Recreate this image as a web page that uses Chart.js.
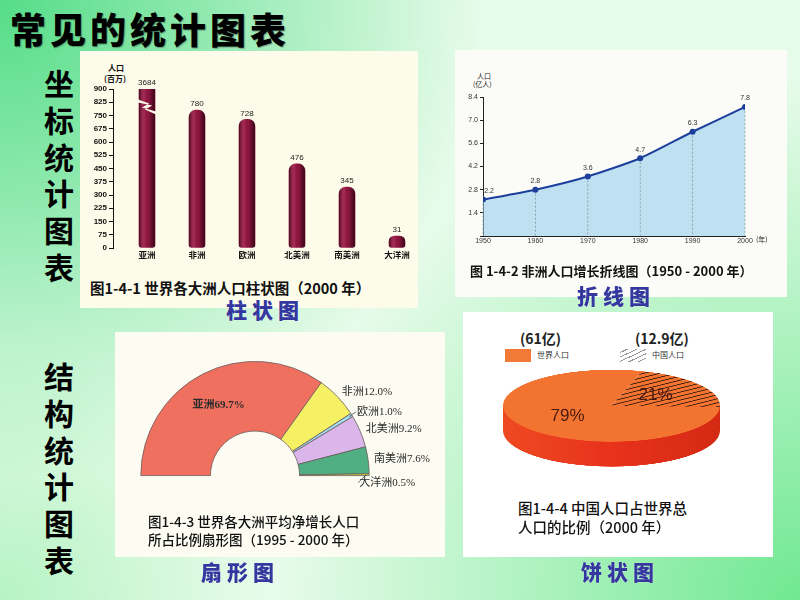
<!DOCTYPE html>
<html>
<head>
<meta charset="utf-8">
<script src="https://cdn.jsdelivr.net/npm/chart.js@4.4.1/dist/chart.umd.min.js"></script>
<style>
html, body { margin: 0; padding: 0; }
body {
  width: 800px; height: 600px; position: relative; overflow: hidden;
  font-family: "Noto Sans CJK SC", "Liberation Sans", sans-serif;
  background:
    radial-gradient(circle at 0 0, #55dd88 0, rgba(85,221,136,0.6) 200px, rgba(85,221,136,0) 480px),
    radial-gradient(circle at 800px 600px, #70e892 0, rgba(112,232,146,0.5) 250px, rgba(112,232,146,0) 520px),
    radial-gradient(circle at 0 600px, rgba(150,238,170,0.6) 0, rgba(150,238,170,0) 260px),
    #e6fbe9;
}
.abs { position: absolute; white-space: nowrap; line-height: 1; }
.panel { position: absolute; }
.title { left: 10px; top: 10px; font-size: 36px; font-weight: 900; letter-spacing: 4px; color: #000;
  text-shadow: 1px 1px 1px rgba(0,0,0,0.3); }
.side { position: absolute; left: 42px; width: 34px; text-align: center; font-size: 30px; font-weight: 700;
  line-height: 36.8px; color: #000; }
.kind { font-size: 21px; font-weight: 900; letter-spacing: 5px; color: #34389e; text-shadow: 0 0 1px #fff; }
.cap { color: #111; }
.small { font-size: 8px; font-weight: 700; color: #111; }
</style>
</head>
<body>
<div class="abs title">常见的统计图表</div>
<div class="side" style="top:64px">坐<br>标<br>统<br>计<br>图<br>表</div>
<div class="side" style="top:357px">结<br>构<br>统<br>计<br>图<br>表</div>

<!-- panels -->
<div class="panel" style="left:80px;top:51px;width:338px;height:257px;background:#fdfbe9"></div>
<div class="panel" style="left:455px;top:50px;width:332px;height:247px;background:#fbfcf7"></div>
<div class="panel" style="left:115px;top:332px;width:330px;height:225px;background:#fdfcf3"></div>
<div class="panel" style="left:463px;top:312px;width:310px;height:245px;background:#ffffff"></div>

<!-- bar chart -->
<div class="abs small" style="left:108px;top:64px">人口</div>
<div class="abs small" style="left:104px;top:75px">(百万)</div>
<div style="position:absolute;left:82px;top:60px;width:340px;height:200px"><canvas id="barChart"></canvas></div>
<div class="abs cap" style="left:90px;top:281px;font-size:14.5px;font-weight:700">图1-4-1 世界各大洲人口柱状图（2000 年）</div>

<!-- line chart -->
<div class="abs" style="left:477px;top:73px;font-size:7px;color:#222">人口</div>
<div class="abs" style="left:473px;top:81px;font-size:7px;color:#222">(亿人)</div>
<div style="position:absolute;left:450px;top:70px;width:320px;height:180px"><canvas id="lineChart"></canvas></div>
<div class="abs" style="left:756px;top:236px;font-size:7px;color:#222">(年)</div>
<div class="abs cap" style="left:470px;top:264px;font-size:13px;font-weight:700">图 1-4-2 非洲人口增长折线图（1950 - 2000 年）</div>

<!-- fan chart -->
<div style="position:absolute;left:115px;top:332px;width:330px;height:225px"><canvas id="fanChart"></canvas></div>
<div class="abs cap" style="left:148px;top:515px;font-size:13.5px;font-weight:500">图1-4-3 世界各大洲平均净增长人口</div>
<div class="abs cap" style="left:148px;top:533px;font-size:13.5px;font-weight:500">所占比例扇形图（1995 - 2000 年）</div>

<!-- pie chart -->
<div id="pieLegend"></div>
<div style="position:absolute;left:501px;top:369px;width:221px;height:296px;transform:scaleY(0.332);transform-origin:0 0"><canvas id="pieChart"></canvas></div>
<div class="abs cap" style="left:518px;top:501px;font-size:14.5px;font-weight:500">图1-4-4 中国人口占世界总</div>
<div class="abs cap" style="left:518px;top:520px;font-size:14.5px;font-weight:500">人口的比例（2000 年）</div>

<div class="abs kind" style="left:226px;top:299px">柱状图</div>
<div class="abs kind" style="left:577px;top:285px">折线图</div>
<div class="abs kind" style="left:201px;top:561px">扇形图</div>
<div class="abs kind" style="left:581px;top:561px">饼状图</div>

<script>
// DATA
// bar: world population by continent, 2000 (millions)
const barLabels = ['亚洲', '非洲', '欧洲', '北美洲', '南美洲', '大洋洲'];
const barValues = [3684, 780, 728, 476, 345, 31];
// line: population of Africa (100 million)
const lineYears = [1950, 1960, 1970, 1980, 1990, 2000];
const lineValues = [2.2, 2.8, 3.6, 4.7, 6.3, 7.8];
// fan: share of net population growth 1995-2000 (%)
const fanLabels = ['亚洲', '非洲', '欧洲', '北美洲', '南美洲', '大洋洲'];
const fanValues = [69.7, 12.0, 1.0, 9.2, 7.6, 0.5];
// pie: China vs the rest of the world, 2000
const pieLabels = ['世界人口', '中国人口'];
const pieValues = [79, 21];
const piePeople = ['61亿', '12.9亿'];

Chart.defaults.font.family = '"Liberation Sans", "Noto Sans CJK SC", sans-serif';
Chart.defaults.animation = false;
Chart.defaults.plugins.legend.display = false;
Chart.defaults.plugins.tooltip.enabled = false;

// BAR CHART
const barDeco = {
  id: 'barDeco',
  afterLayout(chart) {
    // axis line sits a little left of the first column
    chart.scales.y.left -= 9;
    chart.scales.y.right -= 9;
  },
  afterDatasetsDraw(chart) {
    const {ctx, chartArea, scales} = chart;
    const bars = chart.getDatasetMeta(0).data;
    bars.forEach((bar, i) => {
      const w = bar.width, left = bar.x - w / 2;
      const top = Math.max(bar.y, chartArea.top);
      // cylinder shading
      const g = ctx.createLinearGradient(left, 0, left + w, 0);
      g.addColorStop(0, 'rgba(30,0,8,0.65)');
      g.addColorStop(0.35, 'rgba(255,120,160,0.18)');
      g.addColorStop(0.6, 'rgba(0,0,0,0)');
      g.addColorStop(1, 'rgba(30,0,8,0.7)');
      ctx.save();
      ctx.globalCompositeOperation = 'source-atop';
      ctx.fillStyle = g;
      ctx.fillRect(left, top - 1, w, bar.base - top + 2);
      ctx.restore();
      ctx.save();
      ctx.fillStyle = '#222';
      ctx.font = '8px "Liberation Sans"';
      ctx.textAlign = 'center';
      ctx.textBaseline = 'bottom';
      ctx.fillText(barValues[i], bar.x, top - 2);
      ctx.restore();
    });
    // zigzag break on the bar that is taller than the axis
    bars.forEach((bar, i) => {
      if (barValues[i] <= scales.y.max) return;
      const w = bar.width, l = bar.x - w / 2 - 1, r = bar.x + w / 2 + 1;
      const yA = scales.y.getPixelForValue(840);
      ctx.save();
      ctx.fillStyle = '#fdfbe9';
      ctx.beginPath();
      ctx.moveTo(l, yA);
      ctx.lineTo(l + w * 0.7, yA + 4);
      ctx.lineTo(l + w * 0.25, yA + 8);
      ctx.lineTo(r, yA + 12);
      ctx.lineTo(r, yA + 15);
      ctx.lineTo(l + w * 0.25 + 3, yA + 10);
      ctx.lineTo(l + w * 0.7 + 3, yA + 6);
      ctx.lineTo(l, yA + 3);
      ctx.closePath();
      ctx.fill();
      ctx.restore();
    });
  }
};

new Chart(document.getElementById('barChart'), {
  type: 'bar',
  data: {
    labels: barLabels,
    datasets: [{
      data: barValues,
      backgroundColor: '#8e1540',
      borderRadius: {topLeft: 7, topRight: 7, bottomLeft: 3, bottomRight: 3},
      borderSkipped: false,
      barThickness: 16,
      minBarLength: 12,
      clip: 0
    }]
  },
  options: {
    responsive: true,
    maintainAspectRatio: false,
    layout: {padding: {top: 29}},
    scales: {
      x: {
        grid: {display: false, drawTicks: false},
        border: {display: false},
        ticks: {font: {size: 8.5, weight: 'bold'}, color: '#111', padding: 3},
        afterFit: s => { s.height = 12; }
      },
      y: {
        min: 0, max: 900,
        ticks: {stepSize: 75, font: {size: 8, weight: 'bold'}, color: '#111', padding: 2},
        grid: {drawOnChartArea: false, tickLength: 4, color: '#111'},
        border: {color: '#111'},
        afterFit: s => { s.width = 40; }
      }
    }
  },
  plugins: [barDeco]
});

// LINE CHART
const lineDeco = {
  id: 'lineDeco',
  afterDatasetsDraw(chart) {
    const {ctx, chartArea} = chart;
    chart.getDatasetMeta(0).data.forEach((pt, i) => {
      ctx.save();
      ctx.strokeStyle = 'rgba(90,90,90,0.55)';
      ctx.lineWidth = 0.8;
      ctx.setLineDash([2, 2]);
      ctx.beginPath();
      ctx.moveTo(pt.x, pt.y + 4);
      ctx.lineTo(pt.x, chartArea.bottom);
      ctx.stroke();
      ctx.restore();
      ctx.save();
      ctx.fillStyle = '#333';
      ctx.font = '7px "Liberation Sans"';
      ctx.textAlign = 'center';
      ctx.textBaseline = 'bottom';
      ctx.fillText(lineValues[i].toFixed(1), pt.x + (i === 0 ? 6 : 0), pt.y - 5);
      ctx.restore();
    });
  }
};

new Chart(document.getElementById('lineChart'), {
  type: 'line',
  data: {
    datasets: [{
      data: lineYears.map((y, i) => ({x: y, y: lineValues[i]})),
      borderColor: '#1c3f9c',
      borderWidth: 2,
      pointRadius: 3,
      pointBackgroundColor: '#1c3f9c',
      pointBorderWidth: 0,
      fill: 'origin',
      backgroundColor: 'rgba(150,205,236,0.6)',
      tension: 0.2
    }]
  },
  options: {
    responsive: true,
    maintainAspectRatio: false,
    layout: {padding: {top: 27, right: 25}},
    scales: {
      x: {
        type: 'linear', min: 1950, max: 2000,
        ticks: {stepSize: 10, font: {size: 7}, color: '#333', padding: 1, callback: v => String(v)},
        grid: {display: false, drawTicks: false},
        border: {color: '#222'},
        afterFit: s => { s.height = 14; }
      },
      y: {
        min: 0, max: 8.4,
        ticks: {stepSize: 1.4, font: {size: 7}, color: '#333', padding: 2,
          callback: v => (v === 0 ? '' : Number(v).toFixed(1))},
        grid: {drawOnChartArea: false, tickLength: 3, color: '#222'},
        border: {color: '#222'},
        afterFit: s => { s.width = 33; }
      }
    }
  },
  plugins: [lineDeco]
});

// FAN CHART
const fanColors = ['#f0705f', '#f6f065', '#a2dcf0', '#dab6ea', '#4fae82', '#c6e03a'];
const fanNudge = [[0, 0], [0, 0], [0, 0], [0, 0], [0, 0], [-16, 8]];
const fanDeco = {
  id: 'fanDeco',
  afterDatasetsDraw(chart) {
    const {ctx} = chart;
    chart.getDatasetMeta(0).data.forEach((arc, i) => {
      const text = fanLabels[i] + fanValues[i].toFixed(1) + '%';
      ctx.save();
      ctx.fillStyle = '#2a2a2a';
      if (i === 0) {
        const p = arc.tooltipPosition();
        ctx.font = 'bold 11px "Liberation Serif", "Noto Sans CJK SC"';
        ctx.textAlign = 'center';
        ctx.textBaseline = 'middle';
        ctx.fillText(text, p.x, p.y);
      } else {
        const a = (arc.startAngle + arc.endAngle) / 2;
        const r = arc.outerRadius + 6;
        const lx = arc.x + Math.cos(a) * r + fanNudge[i][0];
        const ly = arc.y + Math.sin(a) * r + fanNudge[i][1];
        if (fanValues[i] < 2) {
          ctx.strokeStyle = '#333';
          ctx.lineWidth = 0.7;
          ctx.beginPath();
          ctx.moveTo(arc.x + Math.cos(a) * (arc.outerRadius - 3), arc.y + Math.sin(a) * (arc.outerRadius - 3));
          ctx.lineTo(lx - 1, ly);
          ctx.stroke();
        }
        ctx.font = '11px "Liberation Serif", "Noto Sans CJK SC"';
        ctx.textAlign = 'left';
        ctx.textBaseline = 'middle';
        ctx.fillText(text, lx, ly);
      }
      ctx.restore();
    });
  }
};

new Chart(document.getElementById('fanChart'), {
  type: 'doughnut',
  data: {
    labels: fanLabels,
    datasets: [{data: fanValues, backgroundColor: fanColors, borderColor: '#6a5a5a', borderWidth: 0.8}]
  },
  options: {
    responsive: true,
    maintainAspectRatio: false,
    rotation: -90,
    circumference: 180,
    cutout: '39%',
    layout: {padding: {left: 25, top: 29, right: 75, bottom: 81}}
  },
  plugins: [fanDeco]
});

// PIE CHART (drawn flat, squashed by css into a 3d disc)
const squash = 0.332;
const depth = 75;
const tile = document.createElement('canvas');
tile.width = 16; tile.height = 12;
const tctx = tile.getContext('2d');
tctx.fillStyle = '#f27430';
tctx.fillRect(0, 0, 16, 12);
tctx.strokeStyle = '#4a2414';
tctx.lineWidth = 2.3;
[-16, 0, 16].forEach(dx => {
  tctx.beginPath();
  tctx.moveTo(dx, 12);
  tctx.lineTo(dx + 16, 0);
  tctx.stroke();
});
const hatch = tctx.createPattern(tile, 'repeat');

const pieDeco = {
  id: 'pieDeco',
  beforeDatasetsDraw(chart) {
    const {ctx} = chart;
    const {x, y, outerRadius: r} = chart.getDatasetMeta(0).data[0];
    const g = ctx.createLinearGradient(x - r, 0, x + r, 0);
    g.addColorStop(0, '#ee4a22');
    g.addColorStop(0.5, '#e8321c');
    g.addColorStop(1, '#d42a14');
    ctx.save();
    ctx.fillStyle = g;
    ctx.beginPath();
    ctx.moveTo(x - r, y);
    ctx.lineTo(x - r, y + depth);
    ctx.arc(x, y + depth, r, Math.PI, 0, true);
    ctx.lineTo(x + r, y);
    ctx.closePath();
    ctx.fill();
    ctx.restore();
  },
  afterDatasetsDraw(chart) {
    const {ctx} = chart;
    chart.getDatasetMeta(0).data.forEach((arc, i) => {
      const p = arc.tooltipPosition();
      ctx.save();
      ctx.translate(p.x, p.y);
      ctx.scale(1, 1 / squash);
      ctx.fillStyle = '#4a1a10';
      ctx.font = '17px "Liberation Sans"';
      ctx.textAlign = 'center';
      ctx.textBaseline = 'middle';
      ctx.fillText(pieValues[i] + '%', 0, 0);
      ctx.restore();
    });
  }
};

new Chart(document.getElementById('pieChart'), {
  type: 'pie',
  data: {
    labels: pieLabels,
    datasets: [{data: pieValues, backgroundColor: ['#f27430', hatch], borderWidth: 0}]
  },
  options: {
    responsive: true,
    maintainAspectRatio: false,
    rotation: 92,
    layout: {padding: {top: 2, left: 2, right: 2, bottom: 77}}
  },
  plugins: [pieDeco]
});

// pie legend
const legendBox = document.getElementById('pieLegend');
const legendX = [505, 620];
pieLabels.forEach((lab, i) => {
  const x = legendX[i];
  legendBox.insertAdjacentHTML('beforeend',
    `<div class="abs" style="left:${x + 15}px;top:331px;font-size:14px;font-weight:700;color:#222">(${piePeople[i]})</div>` +
    `<div class="abs" style="left:${x}px;top:349px;width:26px;height:13px;background:${i === 0 ? '#f27a38' :
      'repeating-linear-gradient(-25deg, transparent 0 3px, #999 3px 4px)'}"></div>` +
    `<div class="abs" style="left:${x + 32}px;top:351px;font-size:8px;color:#333">${lab}</div>`);
});
</script>
</body>
</html>
